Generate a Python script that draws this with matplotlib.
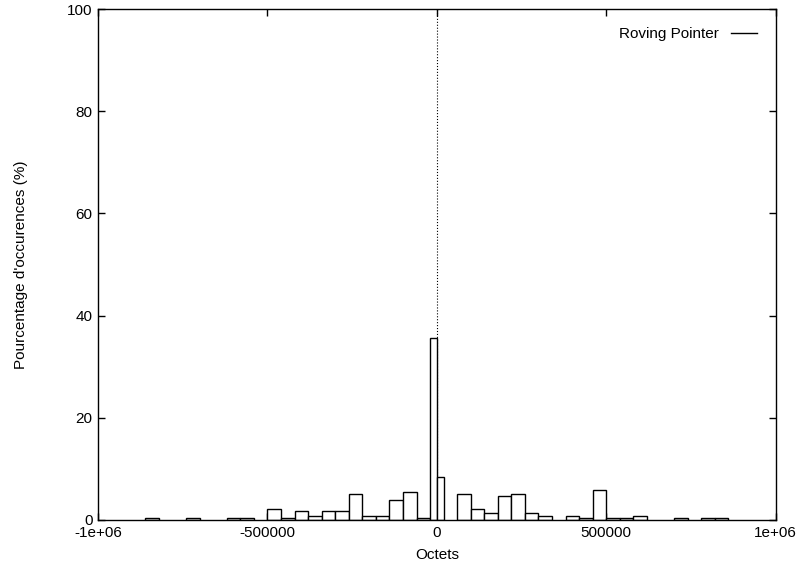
import numpy as np
import matplotlib.pyplot as plt

# ============================================================
# Histogramme des écarts (Roving Pointer)
# ============================================================

# Centres des classes (octets) et pourcentages
centres = [-840000, -720000, -600000, -560000, -480000, -440000, -400000,
           -360000, -320000, -280000, -240000, -200000, -160000, -120000,
           -80000, -40000, 80000, 120000, 160000, 200000, 240000, 280000,
           320000, 400000, 440000, 480000, 520000, 560000, 600000,
           720000, 800000, 840000]
pourcentages = [0.45, 0.45, 0.45, 0.45, 2.2, 0.45, 1.75,
                0.85, 1.75, 1.75, 5.06, 0.85, 0.85, 3.83,
                5.45, 0.45, 5.06, 2.2, 1.3, 4.6, 5.06, 1.3,
                0.85, 0.85, 0.45, 5.84, 0.45, 0.45, 0.85,
                0.45, 0.45, 0.45]

# Classe autour de 0 coupée en deux demi-classes (négatif / positif)
zero_gauche = [-20000]
zero_pct = [35.7, 8.37]

largeur = 40000

plt.rcParams['font.family'] = ['Liberation Sans', 'DejaVu Sans']
plt.rcParams['font.size'] = 11

fig = plt.figure(figsize=(8.03, 5.72), dpi=100)
ax = fig.add_axes([0.122, 0.091, 0.844, 0.893])

ax.bar(centres, pourcentages, width=largeur, color='white',
       edgecolor='black', linewidth=1.0, zorder=2)
ax.bar([zero_gauche[0], zero_gauche[0] + largeur / 2], zero_pct,
       width=largeur / 2, align='edge', color='white',
       edgecolor='black', linewidth=1.0, zorder=2)

# Axe x = 0 en pointillés
ax.axvline(0, color='black', linestyle=':', linewidth=0.8, zorder=1)

# Légende style gnuplot (texte puis trait)
ax.plot([], [], color='black', linewidth=1.0, label='Roving Pointer')
ax.legend(loc='upper right', frameon=False, markerfirst=False,
          handlelength=1.7, borderaxespad=0.8, fontsize=11)

ax.set_xlim(-1e6, 1e6)
ax.set_ylim(0, 100)
ax.set_xticks([-1e6, -500000, 0, 500000, 1e6])
ax.set_xticklabels(['-1e+06', '-500000', '0', '500000', '1e+06'])
ax.set_yticks([0, 20, 40, 60, 80, 100])
ax.tick_params(direction='in', length=5, width=1, top=True, right=True,
               pad=4)
for s in ax.spines.values():
    s.set_linewidth(1.0)

ax.set_xlabel('Octets', labelpad=6)
ax.set_ylabel("Pourcentage d'occurences (%)", labelpad=28)

fig.savefig('out.png', dpi=100)
